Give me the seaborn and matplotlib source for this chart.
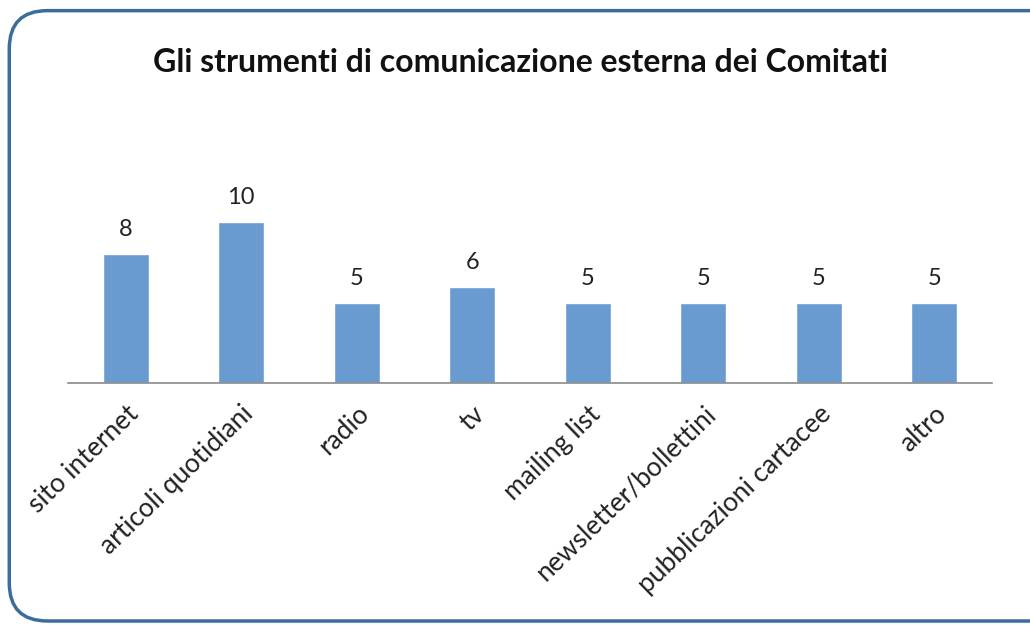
import numpy as np
import pandas as pd
import seaborn as sns
import matplotlib.pyplot as plt
from matplotlib.patches import FancyBboxPatch

# Data
categories = ['sito internet', 'articoli quotidiani', 'radio', 'tv', 'mailing list',
              'newsletter/bollettini', 'pubblicazioni cartacee', 'altro']
counts = [8, 10, 5, 6, 5, 5, 5, 5]
title = 'Gli strumenti di comunicazione esterna dei Comitati'

df = pd.DataFrame({'strumento': categories, 'n': counts})

sns.set_style('white')
plt.rcParams['font.family'] = ['Lato', 'DejaVu Sans']

fig = plt.figure(figsize=(10.3, 6.26), dpi=100)
ax = fig.add_axes([0.066, 0.388, 0.897, 0.36])

sns.barplot(data=df, x='strumento', y='n', color='#6a9bd0', saturation=1,
            width=0.4, ax=ax)

ax.set_xlim(-0.5, len(categories) - 0.5)
ax.set_ylim(0, 14)
ax.set_xlabel('')
ax.set_ylabel('')
ax.set_yticks([])
for s in ['top', 'right', 'left']:
    ax.spines[s].set_visible(False)
ax.spines['bottom'].set_color('#8a8a8a')
ax.spines['bottom'].set_linewidth(1.2)

# value labels
for c in ax.containers:
    ax.bar_label(c, padding=10, fontsize=17, color='#222222')

ax.tick_params(axis='x', length=0, pad=13)
plt.setp(ax.get_xticklabels(), rotation=44, ha='right', rotation_mode='anchor',
         fontsize=19, color='#222222')

fig.text(0.505, 0.9, title, ha='center', va='center', fontsize=23,
         fontweight='bold', color='#111111')

# rounded frame
frame = FancyBboxPatch((0.009, 0.008), 1.05, 0.975, transform=fig.transFigure,
                       boxstyle='round,pad=0,rounding_size=0.037',
                       mutation_aspect=1030 / 626,
                       facecolor='none', edgecolor='#3c6c9c', linewidth=2.5)
fig.patches.append(frame)

fig.savefig('out.png', dpi=100)
